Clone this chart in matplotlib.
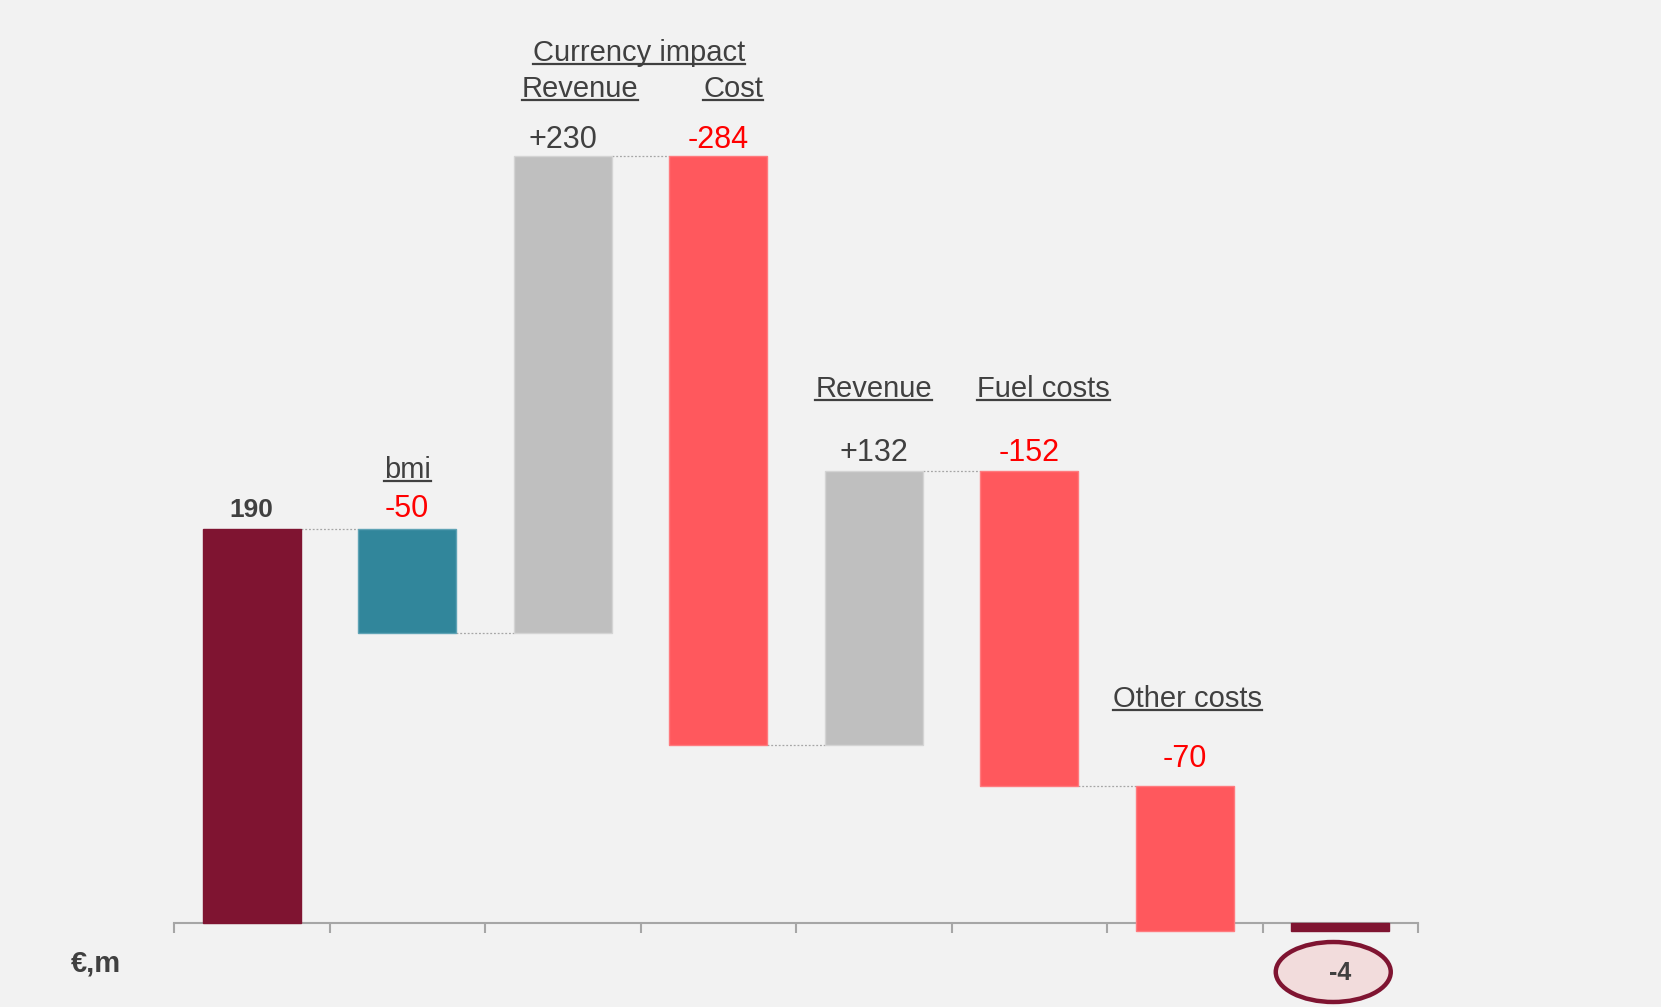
import matplotlib
matplotlib.use("Agg")
import matplotlib.pyplot as plt
from matplotlib.patches import Ellipse
from matplotlib.lines import Line2D

# ---- data ----
categories = ["Start", "bmi", "Currency revenue", "Currency cost",
              "Revenue", "Fuel costs", "Other costs", "End"]
values = [190, -50, 230, -284, 132, -152, -70, -4]
value_labels = ["190", "-50", "+230", "-284", "+132", "-152", "-70", "-4"]
headers = ["bmi", "Currency impact", "Revenue", "Cost", "Revenue", "Fuel costs", "Other costs"]
unit_label = "€,m"

# ---- styles ----
BG = "#f2f2f2"
MAROON = "#7f1431"
TEAL = "#31869b"
GRAY = "#bfbfbf"
RED = "#ff585d"
DARK = "#404040"
bar_colors = [MAROON, TEAL, GRAY, RED, GRAY, RED, RED, MAROON]
label_colors = [DARK, "#ff0000", DARK, "#ff0000", DARK, "#ff0000", "#ff0000", DARK]
label_offsets_px = [12, 12, 8, 8, 10, 10, 19, 0]

plt.rcParams['font.family'] = ['Liberation Sans', 'DejaVu Sans']

W, H = 1661, 1007
fig = plt.figure(figsize=(W / 100, H / 100), dpi=100, facecolor=BG)
PX_PER_UNIT = 2.072
ZERO_PX = 84  # from bottom
ax = fig.add_axes([174 / W, 0, 1244 / W, 1])
ax.set_facecolor(BG)
ax.set_xlim(-0.5, len(categories) - 0.5)
ax.set_ylim(-ZERO_PX / PX_PER_UNIT, (H - ZERO_PX) / PX_PER_UNIT)

# waterfall computation
bottoms, heights, levels = [], [], []
run = 0
for i, v in enumerate(values):
    if i == 0 or i == len(values) - 1:
        b, h = 0, v
        run = v if i == 0 else run
    else:
        b, h = run, v
        run = run + v
    bottoms.append(b)
    heights.append(h)
    levels.append(run)

bw = 0.63
edge_colors = [MAROON, "#5fa3b5", "#d4d4d4", "#ff7a7e", "#d4d4d4", "#ff7a7e", "#ff7a7e", MAROON]
ax.bar(range(len(values)), heights, bottom=bottoms, width=bw,
       color=bar_colors, edgecolor=edge_colors, linewidth=1.0, zorder=3)

# connectors
for i in range(len(values) - 2):
    lvl = levels[i]
    ax.plot([i + bw / 2, i + 1 - bw / 2], [lvl, lvl], color="#a6a6a6",
            lw=0.9, ls=(0, (1.5, 1.5)), zorder=2)

# axis
for s in ["top", "right", "left"]:
    ax.spines[s].set_visible(False)
ax.spines["bottom"].set_position(("data", 0))
ax.spines["bottom"].set_color("#a6a6a6")
ax.spines["bottom"].set_linewidth(1.5)
ax.spines["bottom"].set_zorder(2)
ax.set_yticks([])
ax.set_xticks([i - 0.5 for i in range(len(values) + 1)])
ax.set_xticklabels([])
ax.tick_params(axis="x", direction="out", length=7.5, width=1.5, color="#a6a6a6")

# value labels
for i, (v, lab) in enumerate(zip(values, value_labels)):
    if i == len(values) - 1:
        continue
    top = bottoms[i] + heights[i] if heights[i] > 0 else bottoms[i]
    bold = (i == 0)
    ax.annotate(lab, (i, top), xytext=(0, label_offsets_px[i] * 0.72), textcoords="offset points",
                ha="center", va="baseline", color=label_colors[i],
                fontsize=19 if bold else 22, fontweight="bold" if bold else "normal",
                zorder=5)

# headers (underlined)
header_pos = [(1.0, 214.8), (2.49, 416.0), (2.11, 398.6), (3.095, 398.6),
              (4.0, 253.9), (5.09, 253.9), (6.02, 104.2)]
header_texts = []
for txt, (x, y) in zip(headers, header_pos):
    t = ax.text(x, y, txt, ha="center", va="baseline", color=DARK, fontsize=21, zorder=5)
    header_texts.append(t)

# unit label
ax.text(-1.162, -23.6, unit_label, ha="left", va="baseline", color=DARK,
        fontsize=21, fontweight="bold", clip_on=False)

# ellipse with end value
ex = len(values) - 1
ell = Ellipse((ex - 0.045, -49 / PX_PER_UNIT), width=115 / 155.5,
              height=60 / PX_PER_UNIT, facecolor="#f2dcdc", edgecolor=MAROON,
              linewidth=3.2, zorder=4, clip_on=False)
ax.add_patch(ell)
ax.text(ex, -57 / PX_PER_UNIT, value_labels[-1], ha="center", va="baseline",
        color=DARK, fontsize=18, fontweight="bold", zorder=5)

# draw underlines
fig.canvas.draw()
r = fig.canvas.get_renderer()
for t in header_texts:
    bb = t.get_window_extent(renderer=r)
    x0, x1 = bb.x0, bb.x1
    _, yb = ax.transData.transform(t.get_position())
    yl = yb - 3
    line = Line2D([x0 / W, x1 / W], [yl / H, yl / H], transform=fig.transFigure,
                  color=DARK, lw=1.6)
    fig.add_artist(line)

fig.savefig("out.png", dpi=100, facecolor=BG)
